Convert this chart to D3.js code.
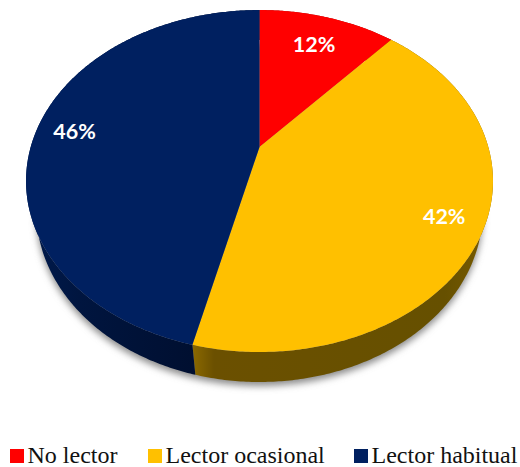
<!DOCTYPE html>
<html lang="es">
<head>
<meta charset="UTF-8">
<title>Tipo de lector</title>
<script src="https://d3js.org/d3.v7.min.js"></script>
<style>
    html, body { margin: 0; padding: 0; background: #fff; }
    svg { display: block; }
    .pct { font-family: Lato, "Open Sans", sans-serif; font-weight: 700; font-size: 21.5px; fill: #fff; }
    .legend text { font-family: "Liberation Serif", serif; font-size: 24px; fill: #111; }
</style>
</head>
<body>
<svg id="chart"></svg>
<script>
// datos (la etiqueta sale redondeada)
const categories = ["No lector", "Lector ocasional", "Lector habitual"];
const values = [11.5, 42.3, 46.2];
const colors = ["#ff0000", "#ffc000", "#002060"];
const labelRadius = [0.77, 0.84, 0.83];
const legendX = [10, 148, 354];

const width = 520, height = 467;
const svg = d3.select("#chart").attr("width", width).attr("height", height);

// apex of the pie and the tilt of the disc
const cx = 259.5, cy = 147;
const sx = 228.8, sy = 164.2, tilt = 0.199;
const depth = 30, shrink = 0.956;

// unit disc -> screen, with perspective
const project = (angle, r = 1) => {
    const u = Math.sin(angle) * r, v = -Math.cos(angle) * r;
    const w = 1 - tilt * v;
    return [cx + sx * u / w, cy + sy * v / w];
};
// same rim, lower and a bit narrower: the bottom edge of the side wall
const projectLow = angle => {
    const p = project(angle);
    return [cx + (p[0] - cx) * shrink, p[1] + depth];
};

const arcPoints = (a0, a1, fn) => {
    const n = Math.max(2, Math.ceil(Math.abs(a1 - a0) / 0.01));
    return d3.range(n + 1).map(i => fn(a0 + (a1 - a0) * i / n));
};

const line = d3.line();
const slices = d3.pie().sort(null)(values);

const defs = svg.append("defs");
defs.append("filter").attr("id", "blur")
    .attr("x", "-10%").attr("y", "-10%").attr("width", "120%").attr("height", "120%")
    .append("feGaussianBlur").attr("stdDeviation", 3.5);

const sideGrad = (id, x1, x2, stops) => {
    const g = defs.append("linearGradient").attr("id", id)
        .attr("gradientUnits", "userSpaceOnUse")
        .attr("x1", x1).attr("x2", x2).attr("y1", 0).attr("y2", 0);
    stops.forEach(s => g.append("stop").attr("offset", s[0]).attr("stop-color", s[1]));
};
sideGrad("side1", 190, 490, [[0, "#8f6c00"], [0.08, "#6b5000"], [0.85, "#665000"], [1, "#7a5c00"]]);
sideGrad("side2", 30, 196, [[0, "#001a4c"], [0.3, "#00153f"], [1, "#000f30"]]);

// soft shadow under the disc
svg.append("path")
    .attr("d", line(arcPoints(0, 2 * Math.PI, projectLow)) + "Z")
    .attr("transform", "translate(0,4)")
    .attr("fill", "#8c8c8c")
    .attr("filter", "url(#blur)");

// side walls first, the top face covers what should be hidden
const wallFill = ["#990000", "url(#side1)", "url(#side2)"];
svg.append("g").selectAll("path")
    .data(slices)
    .join("path")
    .attr("d", d => line(arcPoints(d.startAngle, d.endAngle, project)
        .concat(arcPoints(d.endAngle, d.startAngle, projectLow))) + "Z")
    .attr("fill", (d, i) => wallFill[i]);

// top face
svg.append("g").selectAll("path")
    .data(slices)
    .join("path")
    .attr("d", d => line([[cx, cy]].concat(arcPoints(d.startAngle, d.endAngle, project))) + "Z")
    .attr("fill", (d, i) => colors[i]);

// percent labels
svg.append("g").selectAll("text")
    .data(slices)
    .join("text")
    .attr("class", "pct")
    .attr("text-anchor", "middle")
    .attr("dominant-baseline", "central")
    .attr("transform", (d, i) => {
        const p = project((d.startAngle + d.endAngle) / 2, labelRadius[i]);
        return `translate(${p[0]},${p[1]})`;
    })
    .text(d => Math.round(d.value) + "%");

// legend
const legend = svg.append("g").attr("class", "legend")
    .selectAll("g").data(categories).join("g")
    .attr("transform", (d, i) => `translate(${legendX[i]},449)`);
legend.append("rect").attr("width", 14).attr("height", 14).attr("fill", (d, i) => colors[i]);
legend.append("text").attr("x", 17.5).attr("y", 14).text(d => d);
</script>
</body>
</html>
